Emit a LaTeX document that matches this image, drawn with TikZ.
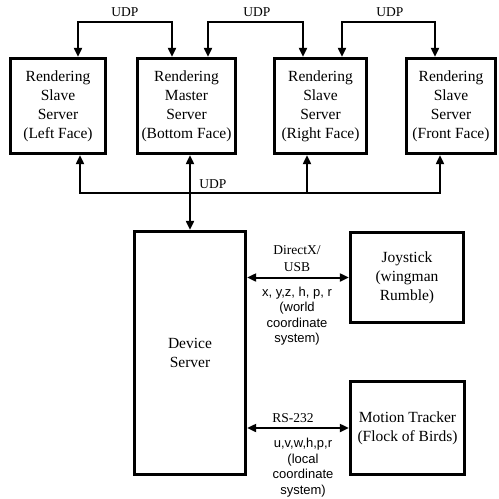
\documentclass[tikz,border=0pt]{standalone}
\usepackage{fontspec}
\setmainfont{Liberation Serif}
\newfontfamily\labsans{Liberation Sans}
\usetikzlibrary{arrows.meta}
\begin{document}
\begin{tikzpicture}[x=1pt,y=-1pt,
  box/.style={draw,line width=3.3pt,align=center,inner sep=0pt,
    font=\fontsize{15.5}{19}\selectfont},
  topbox/.style={box,minimum height=95pt},
  conn/.style={line width=2pt},
  tip/.style={-{Triangle[length=9pt,width=8pt]}},
  tips/.style={{Triangle[length=9pt,width=8pt]}-{Triangle[length=9pt,width=8pt]}},
  lab/.style={font=\fontsize{13.5}{15}\selectfont,inner sep=0pt},
  slab/.style={font=\labsans\fontsize{13}{15.5}\selectfont,align=center,inner sep=0pt}]
\useasboundingbox (0,0) rectangle (499,499);
\node[topbox,minimum width=95pt] (b1) at (58,106) {Rendering\\Slave\\Server\\(Left Face)};
\node[topbox,minimum width=98pt] (b2) at (186.5,106) {Rendering\\Master\\Server\\(Bottom Face)};
\node[topbox,minimum width=92pt] (b3) at (320.5,106) {Rendering\\Slave\\Server\\(Right Face)};
\node[topbox,minimum width=89pt] (b4) at (451,106) {Rendering\\Slave\\Server\\(Front Face)};
\node[box,minimum width=111pt,minimum height=243pt] (dev) at (190,353) {Device\\Server};
\node[box,minimum width=113pt,minimum height=90pt] (joy) at (407,277.5) {Joystick\\(wingman\\Rumble)};
\node[box,minimum width=114pt,minimum height=93pt] (mot) at (407.5,428) {Motion Tracker\\(Flock of Birds)};
% top UDP links
\draw[conn,tips] ([xshift=20pt]b1.north) -- ++(0,-35) -| ([xshift=-14.5pt]b2.north);
\draw[conn,tips] ([xshift=21.5pt]b2.north) -- ++(0,-35) -| ([xshift=-17.5pt]b3.north);
\draw[conn,tips] ([xshift=21.5pt]b3.north) -- ++(0,-35) -| ([xshift=-16pt]b4.north);
\node[lab] (u1) at (125,12) {UDP};
\node[lab] (u2) at (257,12) {UDP};
\node[lab] (u3) at (390,12) {UDP};
% bottom UDP bus
\coordinate (bus) at (0,193);
\coordinate (b1s) at ([xshift=22pt]b1.south);
\coordinate (b3s) at ([xshift=-13.5pt]b3.south);
\coordinate (b4s) at ([xshift=-11pt]b4.south);
\draw[conn,tips] (b1s) -- (b1s |- bus) -- (b4s |- bus) -- (b4s);
\draw[conn,tip] (b3s |- bus) -- (b3s);
\draw[conn,tips] (dev.north |- b2.south) -- (dev.north);
\node[lab] (u4) at (213,184) {UDP};
% device links
\draw[conn,tips] (dev.east |- joy.west) -- (joy.west);
\draw[conn,tips] (dev.east |- mot.west) -- (mot.west);
\node[lab,align=center,font=\fontsize{13.5}{17}\selectfont] (dx) at (297,258.5) {DirectX/\\USB};
\node[slab] (w) at (297,316) {x, y,z, h, p, r\\(world\\coordinate\\system)};
\node[lab] (rs) at (293,418) {RS-232};
\node[slab] (l) at (303,467.5) {u,v,w,h,p,r\\(local\\coordinate\\system)};
\end{tikzpicture}
\end{document}
